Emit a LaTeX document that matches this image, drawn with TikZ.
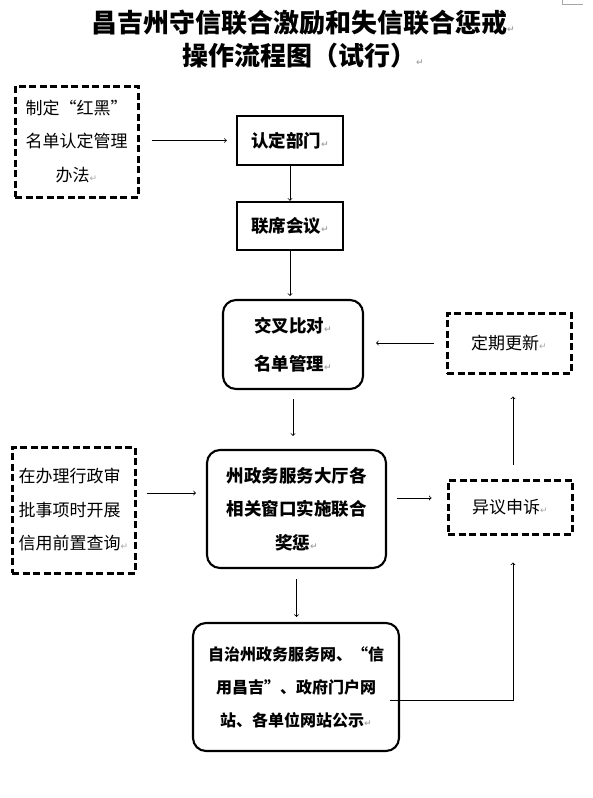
\documentclass[tikz,border=0pt]{standalone}
\usepackage{fontspec}
\setmainfont{Noto Sans CJK SC}
\newfontfamily\retfont{DejaVu Sans}
\usetikzlibrary{calc}
\newcommand\rmk{{\retfont\fontsize{9}{9}\selectfont\color{gray!70}↵}}
\tikzset{
  flownode/.style = {align=center, inner sep=0pt, text centered, font=\fontsize{17}{33.5}\selectfont},
  box_d/.style = {flownode, draw=black, line width=3pt, dash pattern=on 7pt off 3.5pt},
  box_s/.style = {flownode, draw=black, line width=2.4pt, font=\fontsize{17.5}{33.5}\selectfont\bfseries},
  box_r/.style = {flownode, draw=black, line width=2.1pt, rounded corners=13pt, font=\fontsize{17.5}{33.5}\selectfont\bfseries},
  titlenode/.style = {inner sep=0pt, font=\fontsize{26}{26}\selectfont\bfseries},
  arr/.style = {->, line width=0.8pt}
}

\begin{document}
\begin{tikzpicture}[x=1pt, y=-1pt]
\useasboundingbox (0,0) rectangle (592,798);
\draw [gray!70, line width=1pt] (562,0) -- (562,4.5) -- (583,4.5);

\node [titlenode] (title1) at (303,23) {昌吉州守信联合激励和失信联合惩戒\rmk};
\node [titlenode] (title2) at (303,56) {操作流程图（试行）\rmk};

\node [box_d, minimum width=123pt, minimum height=111pt] (rules) at (76.5,141.5) {制定“红黑”\\名单认定管理\\办法\rmk};
\node [box_s, minimum width=106pt, minimum height=49pt] (dept) at (290,140.5) {认定部门\rmk};
\node [box_s, minimum width=106pt, minimum height=48pt] (meet) at (290,226) {联席会议\rmk};
\node [box_r, minimum width=140pt, minimum height=89pt] (check) at (293,344.5) {交叉比对\rmk\\[4pt]名单管理\rmk};
\node [box_d, minimum width=124pt, minimum height=60pt] (update) at (509,343) {定期更新\rmk};
\node [box_d, minimum width=123pt, minimum height=126pt, align=left] (query) at (73.5,510) {在办理行政审\\批事项时开展\\信用前置查询\rmk};
\node [box_r, minimum width=179pt, minimum height=118pt] (hall) at (296.5,509) {州政务服务大厅各\\相关窗口实施联合\\奖惩\rmk};
\node [box_d, minimum width=124pt, minimum height=54pt] (appeal) at (510,507) {异议申诉\rmk};
\node [box_r, minimum width=206pt, minimum height=128pt, font=\fontsize{16}{33}\selectfont\bfseries] (pub) at (296,687) {自治州政务服务网、“信\\用昌吉”、政府门户网\\站、各单位网站公示\rmk};

\draw [arr, shorten <=12pt, shorten >=9pt] (rules.east |- dept.west) -- (dept.west);
\draw [arr] (dept.south) -- (meet.north);
\draw [arr, shorten >=3pt] (meet.south) -- (meet.south |- check.north);
\draw [arr, shorten <=12pt, shorten >=12pt] (update.west) -- (update.west -| check.east);
\draw [arr, shorten <=9pt, shorten >=13pt] (check.south) -- (check.south |- hall.north);
\draw [arr, shorten <=10pt, shorten >=10pt] ([yshift=17pt]query.east) -- ([yshift=17pt]query.east -| hall.west);
\draw [arr, shorten <=10pt, shorten >=15pt] ([yshift=11pt]hall.east) -- ([yshift=11pt]hall.east -| appeal.west);
\draw [arr, shorten <=14pt, shorten >=22pt] ([xshift=3pt]appeal.north) -- ([xshift=3pt]appeal.north |- update.south);
\draw [arr, shorten <=10pt, shorten >=5pt] (hall.south) -- (hall.south |- pub.north);
\draw [arr, shorten >=27pt] ([xshift=-10pt,yshift=-13pt]pub.east) -| ([xshift=3pt]appeal.south);
\end{tikzpicture}
\end{document}
